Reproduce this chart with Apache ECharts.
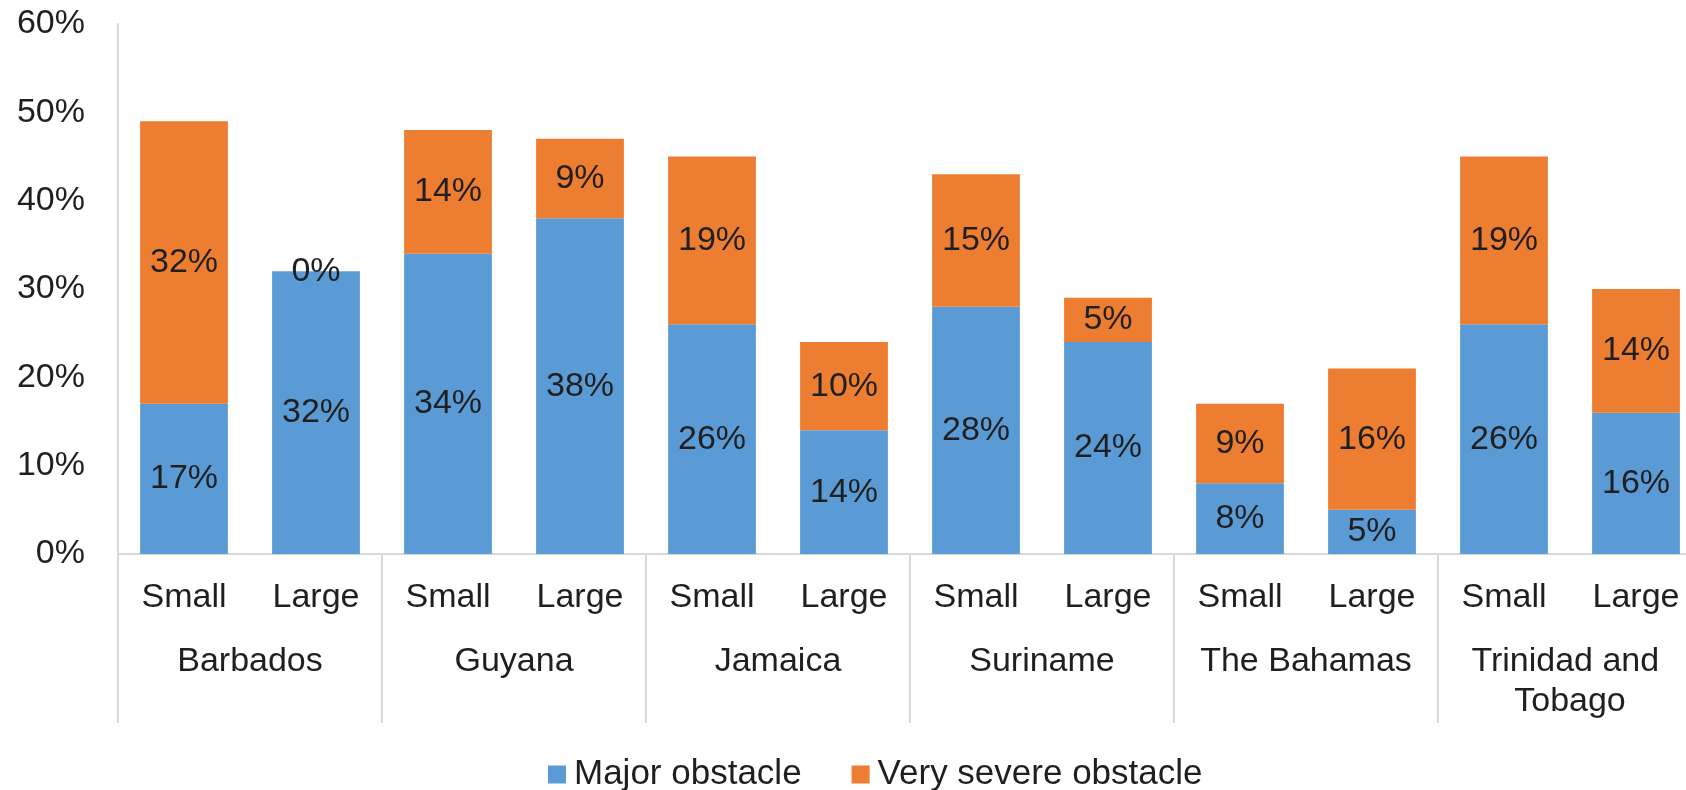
<!DOCTYPE html>
<html>
<head>
<meta charset="utf-8">
<title>Obstacle severity by firm size</title>
<script src="https://cdn.jsdelivr.net/npm/echarts@6/dist/echarts.min.js"></script>
<style>
  html, body { margin: 0; padding: 0; background: #ffffff; overflow: hidden; width: 1686px; height: 790px; }
  /* The plot runs slightly past the right edge of the page */
  #chart { width: 1712px; height: 790px; }
</style>
</head>
<body>
<div id="chart"></div>
<script>
// Firm size within each country
const sizes = ['Small', 'Large', 'Small', 'Large', 'Small', 'Large',
               'Small', 'Large', 'Small', 'Large', 'Small', 'Large'];
const countries = ['Barbados', 'Guyana', 'Jamaica', 'Suriname', 'The Bahamas', 'Trinidad and Tobago'];

// Share of firms (%) per size group
const majorObstacle = [17, 32, 34, 38, 26, 14, 28, 24, 8, 5, 26, 16];
const verySevereObstacle = [32, 0, 14, 9, 19, 10, 15, 5, 9, 16, 19, 14];

const yTicks = [0, 10, 20, 30, 40, 50, 60];

const FONT = "'Liberation Sans', Arial, Helvetica, sans-serif";
const TEXT = '#1f1f1f';
const LINE = '#d9d9d9';

const chart = echarts.init(document.getElementById('chart'), null, { renderer: 'canvas' });

const labelStyle = {
  show: true,
  position: 'inside',
  formatter: p => p.value + '%',
  color: TEXT,
  fontFamily: FONT,
  fontSize: 34
};

chart.setOption({
  animation: false,
  backgroundColor: '#ffffff',
  grid: { left: 118, top: 24, width: 1584, height: 530, containLabel: false },
  legend: {
    left: 543,
    top: 752,
    itemWidth: 18,
    itemHeight: 18,
    itemGap: 50,
    icon: 'rect',
    textStyle: { fontFamily: FONT, fontSize: 35, color: TEXT, padding: [0, 0, 0, 3] },
    data: ['Major obstacle', 'Very severe obstacle']
  },
  xAxis: [
    {
      type: 'category',
      data: sizes,
      position: 'bottom',
      axisLine: { show: true, lineStyle: { color: LINE, width: 2 } },
      axisTick: { show: false },
      axisLabel: { interval: 0, margin: 27, fontFamily: FONT, fontSize: 34, color: TEXT, lineHeight: 34 },
      splitLine: { show: false }
    },
    {
      type: 'category',
      data: countries,
      position: 'bottom',
      offset: 0,
      axisLine: { show: false },
      axisTick: { show: true, interval: 0, length: 169, lineStyle: { color: LINE, width: 2 } },
      axisLabel: {
        interval: 0, margin: 88, fontFamily: FONT, fontSize: 34, color: TEXT,
        lineHeight: 40, width: 250, overflow: 'break', align: 'center'
      },
      splitLine: { show: false }
    }
  ],
  yAxis: {
    type: 'value',
    min: yTicks[0],
    max: yTicks[yTicks.length - 1],
    interval: 10,
    axisLine: { show: true, lineStyle: { color: LINE, width: 2 } },
    axisTick: { show: false },
    splitLine: { show: false },
    axisLabel: { margin: 33, formatter: v => v + '%', fontFamily: FONT, fontSize: 34, color: TEXT }
  },
  series: [
    {
      name: 'Major obstacle',
      type: 'bar',
      stack: 'total',
      xAxisIndex: 0,
      barCategoryGap: '33.5%',
      data: majorObstacle,
      itemStyle: { color: '#5B9BD5' },
      label: labelStyle
    },
    {
      name: 'Very severe obstacle',
      type: 'bar',
      stack: 'total',
      xAxisIndex: 0,
      barCategoryGap: '33.5%',
      data: verySevereObstacle,
      itemStyle: { color: '#ED7D31' },
      label: labelStyle
    }
  ]
});
</script>
</body>
</html>
